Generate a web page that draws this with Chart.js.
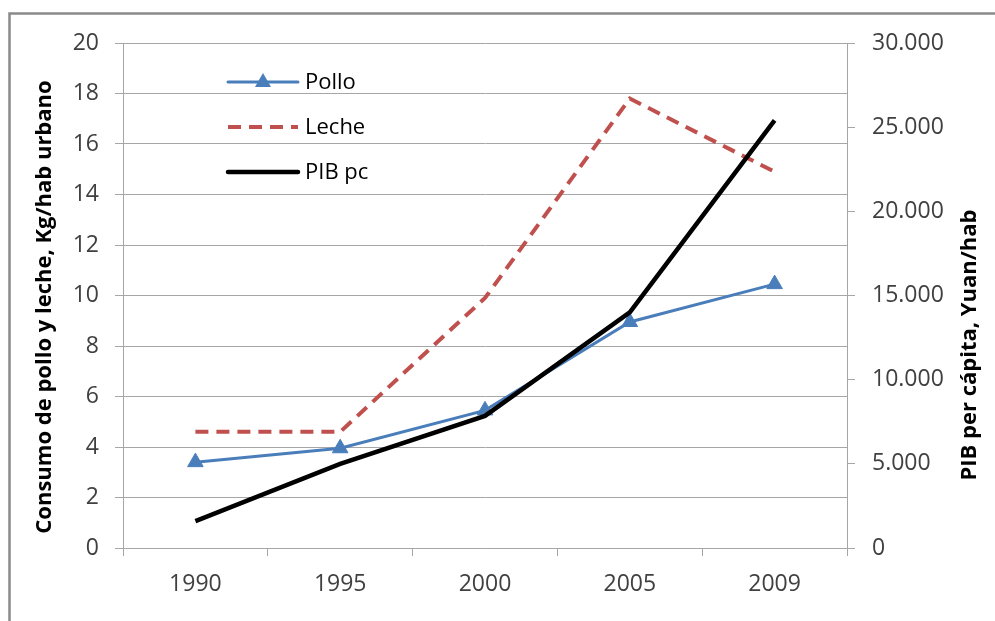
<!DOCTYPE html>
<html><head><meta charset="utf-8">
<script src="https://cdn.jsdelivr.net/npm/chart.js@4"></script>
<style>html,body{margin:0;padding:0;background:#fff;overflow:hidden;} #wrap{position:relative;width:995px;height:621px;}</style>
</head><body><div id="wrap"><canvas id="c" width="995" height="621"></canvas></div>
<script>
const years = ['1990', '1995', '2000', '2005', '2009'];
const pollo = [3.4, 3.95, 5.45, 8.95, 10.45];
const leche = [4.6, 4.6, 9.9, 17.8, 14.9];
const pibpc = [1600, 5000, 7850, 14000, 25400];
const seriesNames = ['Pollo', 'Leche', 'PIB pc'];
const leftTitle = 'Consumo de pollo y leche, Kg/hab urbano';
const rightTitle = 'PIB per cápita, Yuan/hab';

const FONT = 'Open Sans';
const GRID = '#a6a6a6';
const TICKCOL = '#404040';

function fmtThousands(v) {
  return String(Math.round(v)).replace(/\B(?=(\d{3})+(?!\d))/g, '.');
}

const framePlugin = {
  id: 'frame',
  beforeDraw(chart) {
    const ctx = chart.ctx;
    ctx.save();
    ctx.fillStyle = '#fff';
    ctx.fillRect(0, 0, chart.width, chart.height);
    ctx.strokeStyle = '#8a8a8a';
    ctx.lineWidth = 2.5;
    ctx.beginPath();
    ctx.moveTo(9.5, chart.height + 5);
    ctx.lineTo(9.5, 13.5);
    ctx.lineTo(chart.width + 5, 13.5);
    ctx.stroke();
    ctx.restore();
  }
};

const titlesPlugin = {
  id: 'titles',
  afterDraw(chart) {
    const ctx = chart.ctx;
    const draw = (text, x, y) => {
      ctx.save();
      ctx.fillStyle = '#000';
      ctx.font = 'bold 22px "' + FONT + '"';
      ctx.textAlign = 'center';
      ctx.textBaseline = 'middle';
      ctx.translate(x, y);
      ctx.rotate(-Math.PI / 2);
      ctx.fillText(text, 0, 0);
      ctx.restore();
    };
    draw(leftTitle, 45, 307);
    draw(rightTitle, 970, 345);
  }
};

const legendPlugin = {
  id: 'customLegend',
  afterDraw(chart) {
    const ctx = chart.ctx;
    const ys = [82, 127, 172];
    chart.data.datasets.forEach((ds, i) => {
      const y = ys[i];
      ctx.save();
      ctx.strokeStyle = ds.borderColor;
      ctx.lineWidth = ds.borderWidth;
      ctx.setLineDash(ds.borderDash || []);
      ctx.lineCap = ds.borderDash ? 'butt' : 'round';
      ctx.beginPath();
      ctx.moveTo(228, y);
      ctx.lineTo(298, y);
      ctx.stroke();
      if (ds.pointRadius > 0) {
        ctx.setLineDash([]);
        ctx.fillStyle = ds.pointBackgroundColor;
        const cx = 263;
        ctx.beginPath();
        ctx.moveTo(cx, y - 9);
        ctx.lineTo(cx + 8, y + 5);
        ctx.lineTo(cx - 8, y + 5);
        ctx.closePath();
        ctx.fill();
      }
      ctx.fillStyle = '#000';
      ctx.font = '22px "' + FONT + '"';
      ctx.textAlign = 'left';
      ctx.textBaseline = 'middle';
      ctx.fillText(ds.label, 305, y + 1);
      ctx.restore();
    });
  }
};

new Chart(document.getElementById('c'), {
  type: 'line',
  data: {
    labels: years,
    datasets: [
      {
        label: seriesNames[0], data: pollo, yAxisID: 'y',
        borderColor: '#4a7ebb', borderWidth: 3,
        pointStyle: 'triangle', pointRadius: 9, pointHoverRadius: 9,
        pointBackgroundColor: '#4a7ebb', pointBorderColor: '#4a7ebb', pointBorderWidth: 1,
        tension: 0, order: 2
      },
      {
        label: seriesNames[1], data: leche, yAxisID: 'y',
        borderColor: '#c0504d', borderWidth: 4, borderDash: [13, 8],
        pointRadius: 0, tension: 0, order: 1
      },
      {
        label: seriesNames[2], data: pibpc, yAxisID: 'y2',
        borderColor: '#000000', borderWidth: 4.5,
        pointRadius: 0, tension: 0, order: 0
      }
    ]
  },
  options: {
    responsive: false,
    animation: false,
    events: [],
    layout: { padding: { top: 43, left: 0, right: 0, bottom: 0 } },
    plugins: { legend: { display: false }, tooltip: { enabled: false } },
    scales: {
      x: {
        offset: true,
        grid: { offset: true, drawOnChartArea: false, drawTicks: true, tickLength: 8, color: GRID },
        border: { color: GRID, width: 1 },
        ticks: { font: { family: FONT, size: 23 }, color: TICKCOL, padding: 15, maxRotation: 0 },
        afterFit(s) { s.height = 73; }
      },
      y: {
        position: 'left', min: 0, max: 20,
        grid: { color: GRID, tickLength: 8, lineWidth: 1 },
        border: { color: GRID, width: 1 },
        ticks: { stepSize: 2, font: { family: FONT, size: 23 }, color: TICKCOL, padding: 16 },
        afterFit(s) { s.width = 123; }
      },
      y2: {
        position: 'right', min: 0, max: 30000,
        grid: { drawOnChartArea: false, color: GRID, tickLength: 8 },
        border: { color: GRID, width: 1 },
        ticks: { stepSize: 5000, font: { family: FONT, size: 23 }, color: TICKCOL, padding: 17,
          callback: v => fmtThousands(v) },
        afterFit(s) { s.width = 148; }
      }
    }
  },
  plugins: [framePlugin, titlesPlugin, legendPlugin]
});
</script>
</body></html>
